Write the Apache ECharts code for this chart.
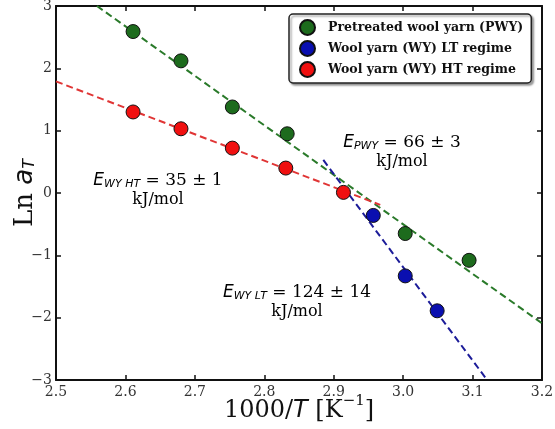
<!DOCTYPE html>
<html>
<head>
<meta charset="utf-8">
<script src="https://cdn.jsdelivr.net/npm/echarts@6/dist/echarts.min.js"></script>
<style>
  html, body { margin: 0; padding: 0; background: #fff; }
  #chart { width: 555px; height: 429px; }
</style>
</head>
<body>
<div id="chart"></div>
<script>
// measured points, x = 1000/T, y = Ln aT
var pwyPoints = [[2.611, 2.59], [2.680, 2.12], [2.754, 1.38], [2.833, 0.95], [3.003, -0.65], [3.095, -1.08]];
var wyLtPoints = [[2.957, -0.36], [3.003, -1.33], [3.049, -1.89]];
var wyHtPoints = [[2.611, 1.30], [2.680, 1.03], [2.754, 0.72], [2.831, 0.40], [2.914, 0.01]];

// fitted Arrhenius lines (end points)
var pwyFit = [[2.559, 3.0], [3.2, -2.09]];
var wyLtFit = [[2.885, 0.53], [3.121, -3.0]];
var wyHtFit = [[2.5, 1.79], [2.967, -0.19]];

var seriesNames = ['Pretreated wool yarn (PWY)', 'Wool yarn (WY) LT regime', 'Wool yarn (WY) HT regime'];
var xTicks = [2.5, 3.2, 0.1];
var yTicks = [-3, 3, 1];

var serif = 'DejaVu Serif';
var sans = 'DejaVu Sans';

function dots(name, data, color) {
  return {
    name: name,
    type: 'scatter',
    data: data,
    symbolSize: 14,
    z: 5,
    itemStyle: { color: color, borderColor: '#111', borderWidth: 1, opacity: 1 }
  };
}

function fitLine(data, color) {
  return {
    type: 'line',
    data: data,
    symbol: 'none',
    silent: true,
    z: 3,
    clip: true,
    lineStyle: { color: color, width: 2, type: [7, 4] }
  };
}

function label(text, sub, rest, color) {
  return {
    rich: {
      e: { fontFamily: sans, fontStyle: 'italic', fontSize: 17, color: color },
      s: { fontFamily: sans, fontStyle: 'italic', fontSize: 11, color: color, padding: [7, 0, 0, 0] },
      r: { fontFamily: serif, fontSize: 17, color: color },
      k: { fontFamily: serif, fontSize: 16, color: color, lineHeight: 19 }
    },
    text: text + '{s|' + sub + '}{r|' + rest + '}\n{k|kJ/mol}'
  };
}

var chart = echarts.init(document.getElementById('chart'));

var axisLine = { show: true, onZero: false, lineStyle: { color: '#111', width: 2 } };
var axisTick = { show: true, inside: true, length: 5, lineStyle: { color: '#111', width: 1.5 } };

var option = {
  backgroundColor: '#fff',
  animation: false,
  grid: { left: 56, right: 13, top: 6, bottom: 49, outerBoundsMode: 'none', containLabel: false },
  legend: {
    data: seriesNames,
    orient: 'vertical',
    left: 289,
    top: 14,
    width: 245,
    padding: [5, 8, 5, 10],
    itemGap: 4,
    itemWidth: 15,
    itemHeight: 15,
    borderColor: '#222',
    borderWidth: 1.5,
    borderRadius: 4,
    backgroundColor: '#fff',
    shadowColor: 'rgba(0,0,0,0.35)',
    shadowOffsetX: 2,
    shadowOffsetY: 2,
    shadowBlur: 2,
    textStyle: { fontFamily: serif, fontWeight: 'bold', fontSize: 12.5, color: '#111', padding: [0, 0, 0, 8] }
  },
  xAxis: [{
    type: 'value',
    min: xTicks[0], max: xTicks[1], interval: xTicks[2],
    axisLine: axisLine, axisTick: axisTick,
    splitLine: { show: false },
    axisLabel: {
      fontFamily: serif, fontSize: 14, color: '#333', margin: 5,
      formatter: function (v) { return v.toFixed(1); }
    },
    name: '{a|1000/}{t|T}{a| [K}{p|−1}{a|]}',
    nameLocation: 'middle',
    nameGap: 14,
    nameMoveOverlap: false,
    nameTextStyle: {
      rich: {
        a: { fontFamily: serif, fontSize: 24, color: '#111' },
        t: { fontFamily: sans, fontStyle: 'italic', fontSize: 24, color: '#111' },
        p: { fontFamily: serif, fontSize: 15, color: '#111', padding: [0, 0, 18, 0] }
      }
    }
  }, {
    type: 'value', position: 'top',
    min: xTicks[0], max: xTicks[1], interval: xTicks[2],
    axisLine: axisLine, axisTick: axisTick,
    axisLabel: { show: false }, splitLine: { show: false }
  }],
  yAxis: [{
    type: 'value',
    min: yTicks[0], max: yTicks[1], interval: yTicks[2],
    axisLine: axisLine, axisTick: axisTick,
    splitLine: { show: false },
    axisLabel: {
      fontFamily: serif, fontSize: 14, color: '#333', margin: 4,
      formatter: function (v) { return v < 0 ? '−' + Math.abs(v) : String(v); }
    },
    name: '{a|Ln }{t|a}{s|T}',
    nameLocation: 'middle',
    nameRotate: 90,
    nameGap: 18,
    nameMoveOverlap: false,
    nameTextStyle: {
      rich: {
        a: { fontFamily: serif, fontSize: 26, color: '#111' },
        t: { fontFamily: sans, fontStyle: 'italic', fontSize: 26, color: '#111' },
        s: { fontFamily: sans, fontStyle: 'italic', fontSize: 16, color: '#111', padding: [10, 0, 0, 0] }
      }
    }
  }, {
    type: 'value', position: 'right',
    min: yTicks[0], max: yTicks[1], interval: yTicks[2],
    axisLine: axisLine, axisTick: axisTick,
    axisLabel: { show: false }, splitLine: { show: false }
  }],
  series: [
    fitLine(pwyFit, '#2a7a2a'),
    fitLine(wyLtFit, '#1c1c99'),
    fitLine(wyHtFit, '#e03535'),
    dots(seriesNames[0], pwyPoints, '#1d6b1d'),
    dots(seriesNames[1], wyLtPoints, '#0a0fb0'),
    dots(seriesNames[2], wyHtPoints, '#f01010')
  ],
  graphic: [
    {
      type: 'text', x: 158, y: 172,
      style: Object.assign(label('{e|E}', 'WY HT', ' = 35 ± 1', '#d63a3a'), { align: 'center' })
    },
    {
      type: 'text', x: 402, y: 134,
      style: Object.assign(label('{e|E}', 'PWY', ' = 66 ± 3', '#3d8a3d'), { align: 'center' })
    },
    {
      type: 'text', x: 297, y: 284,
      style: Object.assign(label('{e|E}', 'WY LT', ' = 124 ± 14', '#3535a0'), { align: 'center' })
    }
  ]
};

chart.setOption(option);
</script>
</body>
</html>
